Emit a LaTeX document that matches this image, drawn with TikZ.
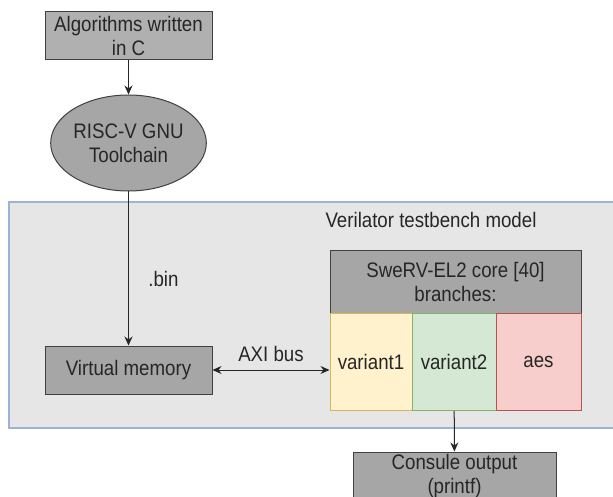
\documentclass[tikz,border=0pt]{standalone}
\usepackage{fontspec}
\setmainfont[FakeStretch=0.89]{Liberation Sans}
\usepackage{tikz}
\usepackage{xcolor}
\usetikzlibrary{
    arrows.meta,
    shapes,
    calc,
    positioning
}
\definecolor{boxgray}{HTML}{A6A6A6}
\definecolor{lightgray}{HTML}{B0B0B0}
\definecolor{benchfill}{HTML}{E6E6E6}
\definecolor{benchline}{HTML}{9DB3D6}
\definecolor{yelfill}{HTML}{FFF2CC}
\definecolor{yelline}{HTML}{D6B656}
\definecolor{grnfill}{HTML}{D5E8D4}
\definecolor{grnline}{HTML}{82B366}
\definecolor{redfill}{HTML}{F8CECC}
\definecolor{redline}{HTML}{B85450}

\tikzset{
    txt/.style={font=\fontsize{21}{24}\selectfont, align=center, text=black!85},
    block/.style={txt, draw=black!75, line width=1pt, fill=boxgray, inner sep=0pt},
    branch/.style={txt, line width=1pt, inner sep=0pt, minimum height=97pt},
    arr/.style={line width=1pt, draw=black!85, -{Stealth[length=9pt,width=8pt]}}
}

\begin{document}
\begin{tikzpicture}[x=1pt, y=-1pt]
    \useasboundingbox (0, 0) rectangle (613, 497);
    \fill[white] (0, 0) rectangle (613, 497);
    \draw[fill=benchfill, draw=benchline, line width=1.2pt] (9, 202) rectangle (630, 428);
    \node[txt] (bench) at (431, 220) {Verilator testbench model};

    \node[block, fill=lightgray, minimum width=167pt, minimum height=48pt] (algo) at (128.5, 36) {Algorithms written\\in C};
    \node[block, ellipse, minimum width=143pt, minimum height=96pt] (tool) at (128.5, 143) {RISC-V GNU\\Toolchain};
    \node[block, minimum width=167pt, minimum height=48pt] (vmem) at (128.5, 370) {Virtual memory};

    \node[block, minimum width=251pt, minimum height=63pt] (swerv) at (455.5, 282) {SweRV-EL2 core [40]\\branches:};
    \node[branch, fill=yelfill, draw=yelline, minimum width=82pt] (var1) at (371, 362) {variant1};
    \node[branch, fill=grnfill, draw=grnline, minimum width=84pt] (var2) at (454, 362) {variant2};
    \node[branch, fill=redfill, draw=redline, minimum width=85pt] (aes) at (538.5, 362) {aes};

    \node[block, minimum width=203pt, minimum height=48pt] (cons) at (454.5, 476) {Consule output\\(printf)};

    \draw[arr] (algo) -- (tool);
    \draw[arr] (tool) -- node[txt, right=16pt, pos=0.57] (bin) {.bin} (vmem);
    \draw[arr, {Stealth[length=9pt,width=8pt]}-{Stealth[length=9pt,width=8pt]}] (vmem.east) -- node[txt, above=4pt] (axi) {AXI bus} (vmem.east -| var1.west);
    \draw[arr] (var2) -- (cons);
\end{tikzpicture}
\end{document}
